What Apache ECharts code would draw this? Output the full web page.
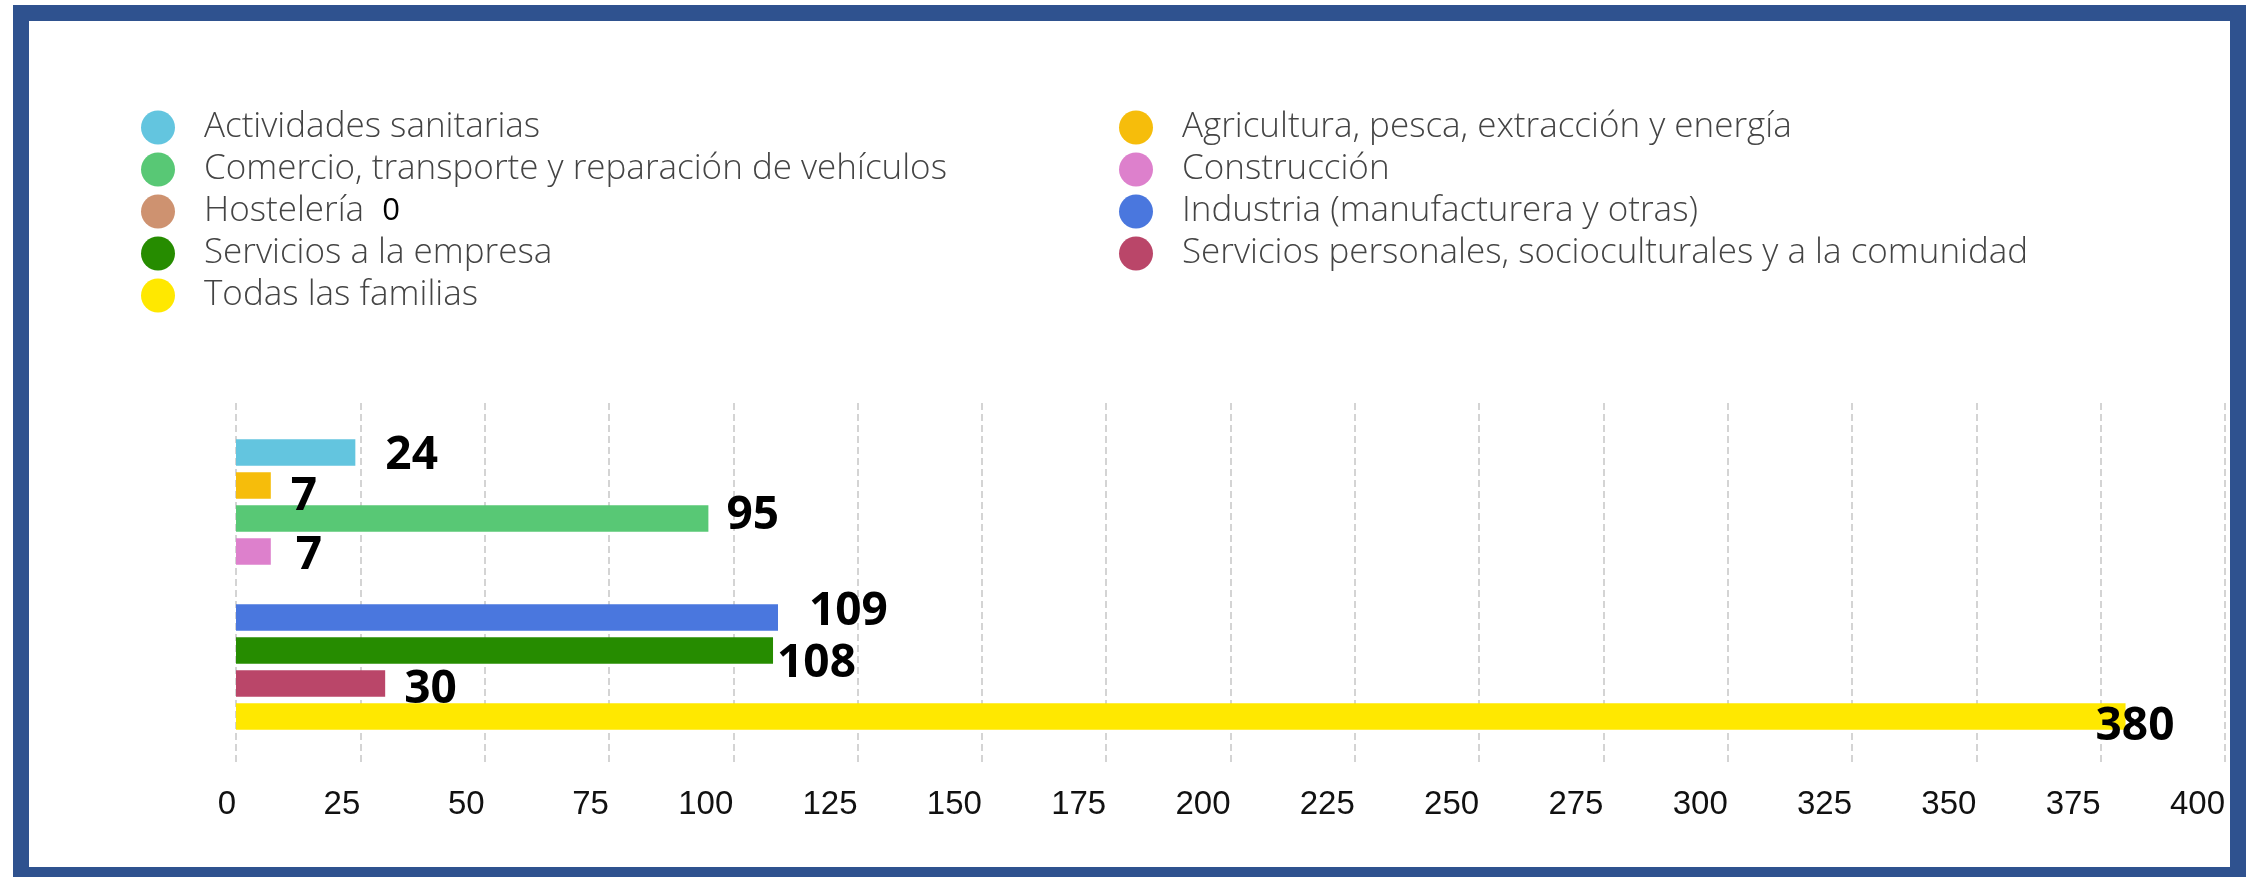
<!DOCTYPE html>
<html>
<head>
<meta charset="utf-8">
<script src="https://cdn.jsdelivr.net/npm/echarts@6/dist/echarts.min.js"></script>
<style>
  html, body { margin: 0; padding: 0; background: #fff; }
  #chart { position: absolute; left: 0; top: 0; width: 2252px; height: 877px; }
  .frame {
    position: absolute; left: 13px; top: 5px; width: 2233px; height: 878px;
    box-sizing: border-box; border: 16px solid #2F528F; pointer-events: none;
  }
</style>
</head>
<body>
<div id="chart"></div>
<div class="frame"></div>
<script>
// one category, one series per family
const categories = ['Total']
const families = [
  'Actividades sanitarias',
  'Agricultura, pesca, extracción y energía',
  'Comercio, transporte y reparación de vehículos',
  'Construcción',
  'Hostelería',
  'Industria (manufacturera y otras)',
  'Servicios a la empresa',
  'Servicios personales, socioculturales y a la comunidad',
  'Todas las familias'
]
const values = [24, 7, 95, 7, 0, 109, 108, 30, 380]
const colors = ['#63C5DF', '#F6BD0B', '#58C875', '#DD80CC', '#CE9270', '#4A77DE', '#268C00', '#BA4669', '#FFE800']
const xTicks = { min: 0, max: 400, interval: 25 }
// the original labels sit a bit off their bars, nudge them the same way
const labelNudge = [[8, 3], [-2, 11], [-4, -3], [3, 4], [0, 0], [9, -6], [-18, 13], [-3, 6], [-52, 10]]

const chart = echarts.init(document.getElementById('chart'))

// legend split in two columns, row by row
const leftCol = families.filter((f, i) => i % 2 === 0)
const rightCol = families.filter((f, i) => i % 2 === 1)

const legendBase = {
  orient: 'vertical',
  top: 105,
  icon: 'circle',
  itemWidth: 34,
  itemHeight: 34,
  itemGap: 7,
  textStyle: {
    fontFamily: 'Open Sans',
    fontWeight: 300,
    fontSize: 35,
    color: '#444',
    lineHeight: 34,
    padding: [0, 0, 0, 24],
    rich: {
      v: { fontFamily: 'Open Sans', fontWeight: 'normal', fontSize: 31, color: '#000', padding: [0, 0, 0, 18] }
    }
  },
  // the zero-valued family shows its value beside the name
  formatter: name => {
    const v = values[families.indexOf(name)]
    return v === 0 ? name + '{v|' + v + '}' : name
  }
}

const option = {
  animation: false,
  legend: [
    Object.assign({}, legendBase, { left: 136, data: leftCol }),
    Object.assign({}, legendBase, { left: 1114, data: rightCol })
  ],
  grid: { left: 236, right: 27, top: 403, bottom: 111 },
  xAxis: {
    type: 'value',
    min: xTicks.min,
    max: xTicks.max,
    interval: xTicks.interval,
    axisLine: { show: false },
    axisTick: { show: false },
    axisLabel: {
      align: 'right',
      margin: 22,
      fontFamily: 'Liberation Sans',
      fontSize: 33,
      color: '#111'
    },
    splitLine: { lineStyle: { color: '#d4d4d4', width: 2, type: [7, 4] } }
  },
  yAxis: {
    type: 'category',
    data: categories,
    inverse: true,
    axisLine: { show: false },
    axisTick: { show: false },
    axisLabel: { show: false }
  },
  series: families.map((name, i) => ({
    name: name,
    type: 'bar',
    data: [values[i]],
    itemStyle: { color: colors[i] },
    barCategoryGap: '20%',
    barGap: '25%',
    label: {
      show: true,
      position: 'right',
      distance: 22,
      offset: labelNudge[i],
      fontFamily: 'Open Sans',
      fontWeight: 'bold',
      fontSize: 46,
      color: '#000',
      formatter: p => (p.value === 0 ? '' : p.value)
    }
  }))
}

chart.setOption(option)
</script>
</body>
</html>
